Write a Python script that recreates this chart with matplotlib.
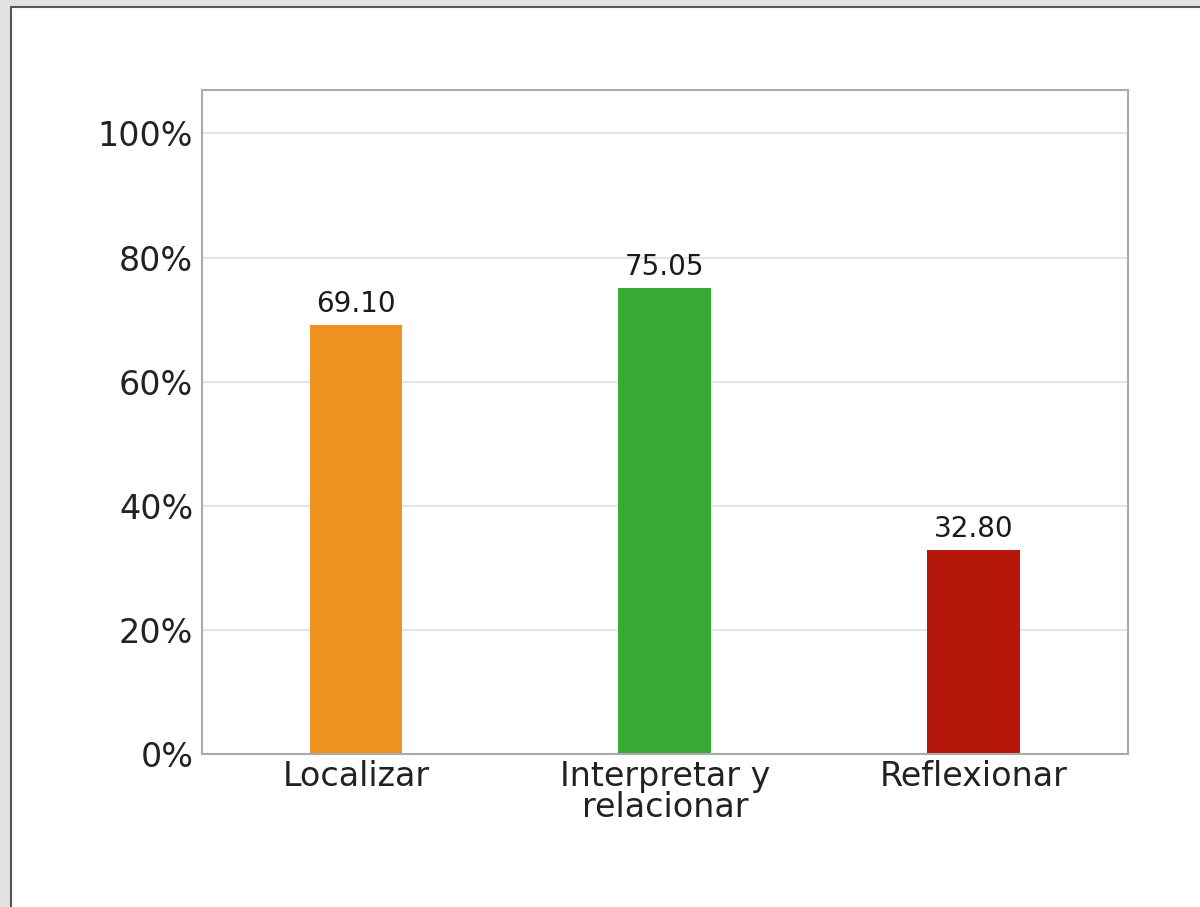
import matplotlib
matplotlib.use("Agg")
import matplotlib.pyplot as plt
from matplotlib.patches import Rectangle
from matplotlib.ticker import FuncFormatter

categories = ["Localizar", "Interpretar y\nrelacionar", "Reflexionar"]
values = [69.10, 75.05, 32.80]
colors = ["#f0921f", "#37a935", "#b5180b"]
yticks = [0, 20, 40, 60, 80, 100]

fig = plt.figure(figsize=(12, 9.07), dpi=100)
fig.patch.set_facecolor("#e2e2e2")
# white page with a dark edge, cut off on right/bottom
fig.patches.append(Rectangle((11 / 1200, -0.1), 1.2, 1 - 7 / 907 + 0.1,
                             transform=fig.transFigure, facecolor="white",
                             edgecolor="#555555", linewidth=1.5, zorder=-10))

ax = fig.add_axes([0.168, 0.1687, 0.772, 0.7321])
ax.set_zorder(5)
x = range(len(categories))
bars = ax.bar(x, values, width=0.3, color=colors, zorder=2)

for b, v in zip(bars, values):
    ax.text(b.get_x() + b.get_width() / 2, v + 1.2, f"{v:.2f}",
            ha="center", va="bottom", fontsize=20, color="#1a1a1a")

ax.set_xlim(-0.5, 2.5)
ax.set_ylim(0, 107)
ax.set_yticks(yticks)
ax.yaxis.set_major_formatter(FuncFormatter(lambda v, p: f"{v:.0f}%"))
ax.set_xticks(list(x))
ax.set_xticklabels(categories, linespacing=0.95)
ax.tick_params(axis="both", length=0, labelsize=24, colors="#222222", pad=6)
ax.tick_params(axis="x", pad=4)
ax.yaxis.grid(True, color="#e4e4e4", linewidth=1.5, zorder=0)
ax.set_axisbelow(True)
for s in ax.spines.values():
    s.set_color("#aaaaaa")
    s.set_linewidth(1.5)

fig.savefig("out.png", dpi=100, facecolor=fig.get_facecolor())
